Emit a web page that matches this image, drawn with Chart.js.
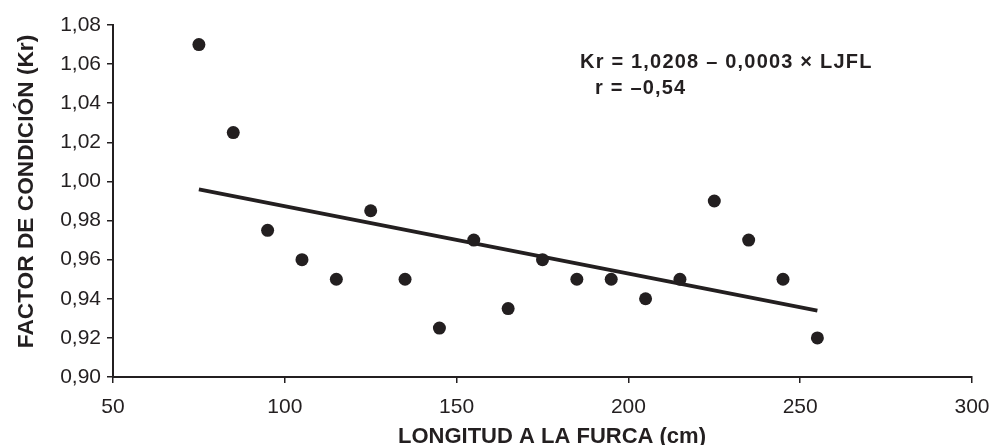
<!DOCTYPE html>
<html>
<head>
<meta charset="utf-8">
<script src="https://cdn.jsdelivr.net/npm/chart.js@4"></script>
<style>
  html, body { margin: 0; padding: 0; background: #fff; }
  #wrap { width: 992px; height: 445px; }
</style>
</head>
<body>
<div id="wrap"><canvas id="kr-chart" width="992" height="445"></canvas></div>
<script>
/* ─── Data ───────────────────────────────────────────────────────────────── */
const lengthsCm = [75, 85, 95, 105, 115, 125, 135, 145, 155, 165, 175, 185, 195, 205, 215, 225, 235, 245, 255];
const krValues  = [1.070, 1.025, 0.975, 0.960, 0.950, 0.985, 0.950, 0.925, 0.970, 0.935, 0.960, 0.950, 0.950, 0.940, 0.950, 0.990, 0.970, 0.950, 0.920];
const trendX    = [75, 255];
const trendY    = [0.996, 0.934];
const eqLines   = ['Kr = 1,0208 \u2013 0,0003 \u00d7 LJFL', 'r = \u20130,54'];
const xTitle    = 'LONGITUD A LA FURCA (cm)';
const yTitle    = 'FACTOR DE CONDICIÓN (Kr)';

const INK  = '#231f20';
const FONT = '"Liberation Sans", Arial, Helvetica, sans-serif';

/* ─── Axis titles + equation text ────────────────────────────────────────── */
const labelsPlugin = {
  id: 'labels',
  afterDraw(chart) {
    const ctx = chart.ctx;
    ctx.save();
    ctx.fillStyle = INK;
    ctx.textBaseline = 'alphabetic';

    /* equation */
    ctx.font = `bold 20px ${FONT}`;
    ctx.letterSpacing = '1.2px';
    ctx.textAlign = 'left';
    ctx.fillText(eqLines[0], 580, 68);
    ctx.fillText(eqLines[1], 595, 94);

    /* axis titles */
    ctx.letterSpacing = '0px';
    ctx.textAlign = 'center';
    ctx.font = `bold 22px ${FONT}`;
    ctx.fillText(xTitle, 552, 443);

    ctx.font = `bold 22.7px ${FONT}`;
    ctx.translate(33, 191.5);
    ctx.rotate(-Math.PI / 2);
    ctx.fillText(yTitle, 0, 0);
    ctx.restore();
  }
};

/* ─── Chart ──────────────────────────────────────────────────────────────── */
const points = lengthsCm.map((x, i) => ({ x, y: krValues[i] }));
const trend  = trendX.map((x, i) => ({ x, y: trendY[i] }));

new Chart(document.getElementById('kr-chart'), {
  type: 'scatter',
  data: {
    datasets: [
      {
        label: 'Kr',
        data: points,
        backgroundColor: INK,
        borderWidth: 0,
        pointRadius: 6.5,
        pointHoverRadius: 6.5
      },
      {
        label: 'Tendencia',
        data: trend,
        showLine: true,
        borderColor: INK,
        borderWidth: 3.8,
        pointRadius: 0,
        fill: false
      }
    ]
  },
  options: {
    responsive: false,
    animation: false,
    layout: { padding: { top: 25, right: 20, left: 0, bottom: 0 } },
    plugins: { legend: { display: false }, tooltip: { enabled: false } },
    scales: {
      x: {
        type: 'linear',
        min: 50,
        max: 300,
        afterFit: s => { s.height = 68; s.paddingLeft = 0; s.paddingRight = 0; },
        ticks: {
          stepSize: 50,
          padding: 12,
          color: INK,
          font: { family: FONT, size: 21 }
        },
        grid: { drawOnChartArea: false, drawTicks: true, tickLength: 6, color: INK, lineWidth: 1.5 },
        border: { display: true, color: INK, width: 2 }
      },
      y: {
        min: 0.90,
        max: 1.08,
        afterFit: s => { s.width = 113; },
        ticks: {
          stepSize: 0.02,
          padding: 6,
          color: INK,
          font: { family: FONT, size: 21 },
          callback: v => v.toFixed(2).replace('.', ',')
        },
        grid: { drawOnChartArea: false, drawTicks: true, tickLength: 6, color: INK, lineWidth: 1.5 },
        border: { display: true, color: INK, width: 2 }
      }
    }
  },
  plugins: [labelsPlugin]
});
</script>
</body>
</html>
